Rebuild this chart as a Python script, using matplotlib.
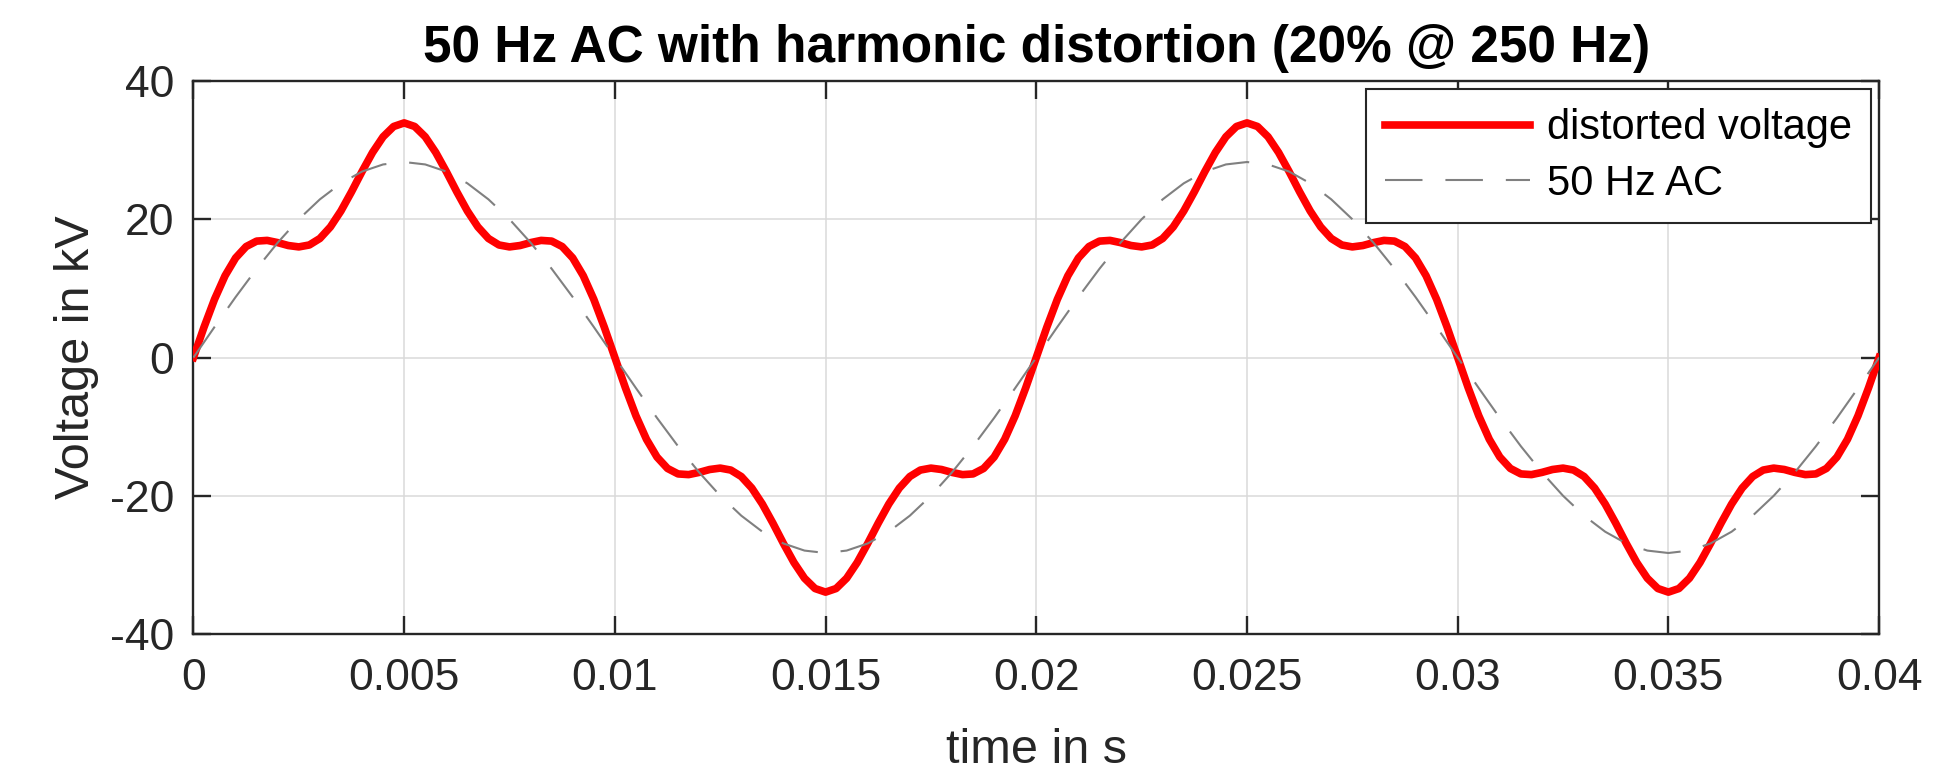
import matplotlib
matplotlib.use('Agg')

import numpy as np
import matplotlib.pyplot as plt

# values (kV)
distorted_kv = [
    0, 4.38, 8.42, 11.83, 14.40, 16.05, 16.84, 16.94, 16.62, 16.20,
    16.00, 16.28, 17.22, 18.89, 21.20, 23.96, 26.90, 29.66, 31.93, 33.42,
    33.94, 33.42, 31.93, 29.66, 26.90, 23.96, 21.20, 18.89, 17.22, 16.28,
    16.00, 16.20, 16.62, 16.94, 16.84, 16.05, 14.40, 11.83, 8.42, 4.38,
    0, -4.38, -8.42, -11.83, -14.40, -16.05, -16.84, -16.94, -16.62, -16.20,
    -16.00, -16.28, -17.22, -18.89, -21.20, -23.96, -26.90, -29.66, -31.93, -33.42,
    -33.94, -33.42, -31.93, -29.66, -26.90, -23.96, -21.20, -18.89, -17.22, -16.28,
    -16.00, -16.20, -16.62, -16.94, -16.84, -16.05, -14.40, -11.83, -8.42, -4.38,
    0, 4.38, 8.42, 11.83, 14.40, 16.05, 16.84, 16.94, 16.62, 16.20,
    16.00, 16.28, 17.22, 18.89, 21.20, 23.96, 26.90, 29.66, 31.93, 33.42,
    33.94, 33.42, 31.93, 29.66, 26.90, 23.96, 21.20, 18.89, 17.22, 16.28,
    16.00, 16.20, 16.62, 16.94, 16.84, 16.05, 14.40, 11.83, 8.42, 4.38,
    0, -4.38, -8.42, -11.83, -14.40, -16.05, -16.84, -16.94, -16.62, -16.20,
    -16.00, -16.28, -17.22, -18.89, -21.20, -23.96, -26.90, -29.66, -31.93, -33.42,
    -33.94, -33.42, -31.93, -29.66, -26.90, -23.96, -21.20, -18.89, -17.22, -16.28,
    -16.00, -16.20, -16.62, -16.94, -16.84, -16.05, -14.40, -11.83, -8.42, -4.38,
    0,
]

ac_kv = [
    0, 4.42, 8.74, 12.84, 16.62, 20.00, 22.88, 25.20, 26.90, 27.93,
    28.28, 27.93, 26.90, 25.20, 22.88, 20.00, 16.62, 12.84, 8.74, 4.42,
    0, -4.42, -8.74, -12.84, -16.62, -20.00, -22.88, -25.20, -26.90, -27.93,
    -28.28, -27.93, -26.90, -25.20, -22.88, -20.00, -16.62, -12.84, -8.74, -4.42,
    0, 4.42, 8.74, 12.84, 16.62, 20.00, 22.88, 25.20, 26.90, 27.93,
    28.28, 27.93, 26.90, 25.20, 22.88, 20.00, 16.62, 12.84, 8.74, 4.42,
    0, -4.42, -8.74, -12.84, -16.62, -20.00, -22.88, -25.20, -26.90, -27.93,
    -28.28, -27.93, -26.90, -25.20, -22.88, -20.00, -16.62, -12.84, -8.74, -4.42,
    0,
]

x_ticks = [0, 0.005, 0.01, 0.015, 0.02, 0.025, 0.03, 0.035, 0.04]
x_ticklabels = ['0', '0.005', '0.01', '0.015', '0.02', '0.025', '0.03', '0.035', '0.04']
y_ticks = [-40, -20, 0, 20, 40]
y_ticklabels = ['-40', '-20', '0', '20', '40']

t_dist = np.linspace(0, 0.04, len(distorted_kv))
t_ac = np.linspace(0, 0.04, len(ac_kv))

plt.rcParams['font.family'] = ['Liberation Sans', 'DejaVu Sans']
plt.rcParams['axes.unicode_minus'] = False
dark = '#262626'

fig = plt.figure(figsize=(19.58, 7.7), dpi=100)
ax = fig.add_axes([0.0988, 0.1766, 0.8609, 0.7182])

ax.plot(t_dist, distorted_kv, color='red', lw=5.5, label='distorted voltage',
        solid_joinstyle='round', zorder=3)
ax.plot(t_ac, ac_kv, color='#808080', lw=1.5, dashes=(18, 11),
        label='50 Hz AC', zorder=4)

ax.set_xlim(0, 0.04)
ax.set_ylim(-40, 40)
ax.set_xticks(x_ticks)
ax.set_xticklabels(x_ticklabels)
ax.set_yticks(y_ticks)
ax.set_yticklabels(y_ticklabels)
ax.grid(True, color='#dadada', lw=1.1)
ax.set_axisbelow(True)

for s in ax.spines.values():
    s.set_color(dark)
    s.set_linewidth(1.7)

ax.tick_params(axis='both', direction='in', length=13, width=1.7, color=dark,
               labelcolor=dark, labelsize=32, top=True, right=True)
ax.tick_params(axis='x', pad=17)
ax.tick_params(axis='y', pad=14)

ax.set_xlabel('time in s', fontsize=35, color=dark, labelpad=21)
ax.set_ylabel('Voltage in kV', fontsize=35, color=dark, labelpad=8)
ax.set_title('50 Hz AC with harmonic distortion (20% @ 250 Hz)',
             fontsize=37, fontweight='bold', color='black', pad=14)

leg = ax.legend(loc='upper right', fontsize=30, frameon=True, fancybox=False,
                handlelength=3.5, handletextpad=0.4, borderaxespad=0.2,
                borderpad=0.45, labelspacing=0.38)
leg.get_frame().set_edgecolor(dark)
leg.get_frame().set_linewidth(1.5)
leg.get_frame().set_alpha(1)

plt.savefig('out.png', dpi=100)
